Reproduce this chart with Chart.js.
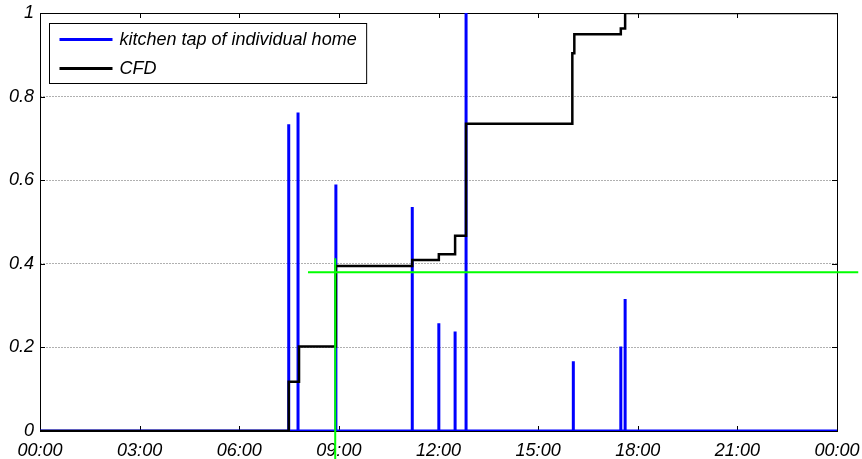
<!DOCTYPE html>
<html>
<head>
<meta charset="utf-8">
<script src="https://cdn.jsdelivr.net/npm/chart.js@4/dist/chart.umd.min.js"></script>
<style>
  html, body { margin: 0; padding: 0; background: #fff; }
  #wrap { width: 862px; height: 459px; }
</style>
</head>
<body>
<div id="wrap"><canvas id="cfd-chart" width="862" height="459"></canvas></div>
<script>
'use strict';

/* tick labels */
const hourTicks = ['00:00', '03:00', '06:00', '09:00', '12:00', '15:00', '18:00', '21:00', '00:00'];
const levelTicks = ['0', '0.2', '0.4', '0.6', '0.8', '1'];

/* kitchen tap draw-offs: hour of day, normalised flow */
const tapHours  = [7.49, 7.77, 8.91, 11.21, 12.01, 12.50, 12.83, 16.06, 17.49, 17.62];
const tapValues = [0.734, 0.762, 0.590, 0.536, 0.258, 0.238, 1.0, 0.167, 0.202, 0.316];

/* cumulative frequency distribution (step) */
const cfdHours  = [0, 7.49, 7.80, 8.91, 11.21, 12.01, 12.50, 12.83, 16.03, 16.09, 17.49, 17.62, 24];
const cfdValues = [0, 0.118, 0.202, 0.395, 0.409, 0.423, 0.467, 0.735, 0.904, 0.949, 0.963, 1.0, 1.0];

/* green reference lines */
const levelHours  = [8.07, 24.64];
const levelValues = [0.38, 0.38];
const markHours   = [8.89, 8.89];
const markValues  = [0.413, -0.067];

const FAMILY = '"Liberation Sans", Arial, sans-serif';
const FONT = 'italic 18px ' + FAMILY;

function tapPoints() {
  const pts = [{ x: 0, y: 0 }];
  tapHours.forEach((h, i) => {
    pts.push({ x: h, y: 0 }, { x: h, y: tapValues[i] }, { x: h, y: 0 });
  });
  pts.push({ x: 24, y: 0 });
  return pts;
}
const pairs = (xs, ys) => xs.map((x, i) => ({ x, y: ys[i] }));

/* box, inward tick marks (MATLAB style) */
const framePlugin = {
  id: 'frame',
  beforeDatasetsDraw(chart) {
    const { ctx, chartArea: a, scales } = chart;
    ctx.save();
    ctx.strokeStyle = '#000';
    ctx.lineWidth = 1;
    ctx.beginPath();
    scales.x.ticks.forEach(t => {
      const px = Math.round(scales.x.getPixelForValue(t.value)) + 0.5;
      ctx.moveTo(px, a.bottom); ctx.lineTo(px, a.bottom - 5);
      ctx.moveTo(px, a.top);    ctx.lineTo(px, a.top + 5);
    });
    scales.y.ticks.forEach(t => {
      const py = Math.round(scales.y.getPixelForValue(t.value)) + 0.5;
      ctx.moveTo(a.left, py);  ctx.lineTo(a.left + 5, py);
      ctx.moveTo(a.right, py); ctx.lineTo(a.right - 5, py);
    });
    ctx.stroke();
    ctx.strokeRect(Math.round(a.left) + 0.5, Math.round(a.top) + 0.5,
      Math.round(a.right - a.left), Math.round(a.bottom - a.top));
    ctx.restore();
  }
};

/* legend inside the axes, top-left; tap series listed first */
const boxLegend = {
  id: 'boxLegend',
  afterDatasetsDraw(chart) {
    const { ctx, chartArea: a } = chart;
    const items = chart.data.datasets.filter(d => d.label).reverse();
    ctx.save();
    ctx.font = FONT;
    const textW = Math.max(...items.map(d => ctx.measureText(d.label).width));
    const x0 = Math.round(a.left) + 9.5, y0 = Math.round(a.top) + 10.5;
    const w = 70 + textW + 10, h = 60;
    ctx.fillStyle = '#fff';
    ctx.fillRect(x0, y0, w, h);
    ctx.strokeStyle = '#000';
    ctx.lineWidth = 1;
    ctx.strokeRect(x0, y0, w, h);
    items.forEach((d, i) => {
      const cy = y0 + 16 + i * 29;
      ctx.strokeStyle = d.borderColor;
      ctx.lineWidth = 3;
      ctx.beginPath();
      ctx.moveTo(x0 + 10, cy); ctx.lineTo(x0 + 63, cy);
      ctx.stroke();
      ctx.fillStyle = '#000';
      ctx.textBaseline = 'middle';
      ctx.fillText(d.label, x0 + 70, cy);
    });
    ctx.restore();
  }
};

const lineBase = { pointRadius: 0, tension: 0, fill: false };

new Chart(document.getElementById('cfd-chart'), {
  type: 'line',
  data: {
    datasets: [
      { ...lineBase, data: pairs(levelHours, levelValues), borderColor: '#00ff00', borderWidth: 2, clip: false },
      { ...lineBase, data: pairs(markHours, markValues), borderColor: '#00ff00', borderWidth: 2, clip: false },
      { ...lineBase, label: 'CFD', data: pairs(cfdHours, cfdValues), borderColor: '#000000', borderWidth: 2.5, stepped: 'before' },
      { ...lineBase, label: 'kitchen tap of individual home', data: tapPoints(), borderColor: '#0000ff', borderWidth: 3 },
    ],
  },
  options: {
    responsive: false,
    animation: false,
    devicePixelRatio: 1,
    layout: { padding: { left: 0, right: 25, top: 13, bottom: 0 } },
    plugins: { legend: { display: false }, tooltip: { enabled: false } },
    scales: {
      x: {
        type: 'linear', min: 0, max: 24,
        ticks: { stepSize: 3, color: '#000', font: { family: FAMILY, size: 18, style: 'italic' }, padding: 9, maxRotation: 0, callback: (v, i) => hourTicks[i] },
        grid: { display: false, drawTicks: false },
        border: { display: false },
        afterFit: s => { s.height = 28; s.paddingLeft = 0; s.paddingRight = 0; },
      },
      y: {
        min: 0, max: 1,
        ticks: { stepSize: 0.2, color: '#000', font: { family: FAMILY, size: 18, style: 'italic' }, padding: 6, callback: (v, i) => levelTicks[i] },
        grid: { drawTicks: false, lineWidth: 1, color: c => (c.tick && (c.tick.value === 0 || c.tick.value === 1)) ? 'rgba(0,0,0,0)' : '#b0b0b0' },
        border: { display: false, dash: [2, 1] },
        afterFit: s => { s.width = 40; s.paddingTop = 0; s.paddingBottom = 0; },
      },
    },
  },
  plugins: [framePlugin, boxLegend],
});
</script>
</body>
</html>
